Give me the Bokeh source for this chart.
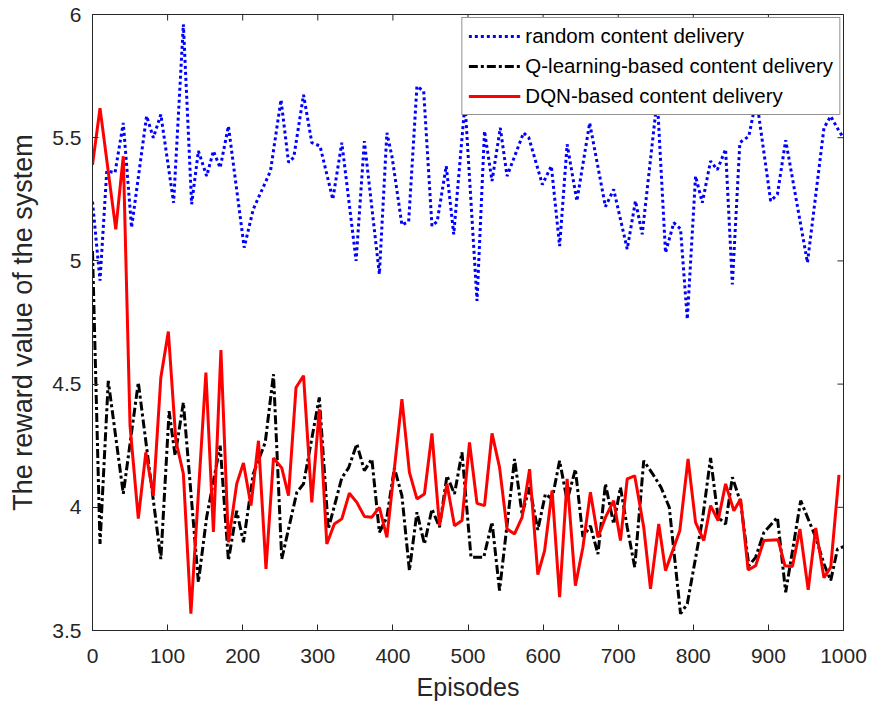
import math
from bokeh.plotting import figure
from bokeh.models import Legend, LegendItem, FixedTicker, Range1d, NumeralTickFormatter
from bokeh.embed import file_html
from bokeh.resources import INLINE

# ---- data ----
ep_random = [0, 10, 19, 30, 41, 52, 72, 81, 91, 108, 121, 132, 141, 152, 161, 170, 181, 202, 214, 237,
             251, 261, 268, 281, 292, 303, 320, 332, 351, 362, 382, 392, 399, 412, 421, 432, 441, 452, 459,
             471, 481, 496, 512, 522, 532, 543, 552, 574, 581, 599, 611, 622, 632, 645, 662, 683, 694, 712,
             723, 732, 752, 763, 774, 783, 792, 803, 812, 823, 832, 843, 852, 862, 874, 884, 903, 912, 923,
             952, 974, 983, 994, 1000]
reward_random = [5.24, 4.92, 5.365, 5.358, 5.56, 5.135, 5.588, 5.50, 5.594, 5.236, 5.96, 5.23, 5.446, 5.344,
                 5.446, 5.378, 5.547, 5.054, 5.209, 5.365, 5.654, 5.40, 5.42, 5.674, 5.48, 5.466, 5.25, 5.48,
                 5.0, 5.486, 4.946, 5.52, 5.42, 5.146, 5.16, 5.709, 5.689, 5.142, 5.16, 5.385, 5.108, 5.64,
                 4.838, 5.527, 5.324, 5.54, 5.344, 5.52, 5.50, 5.31, 5.385, 5.06, 5.473, 5.243, 5.56, 5.22,
                 5.29, 5.048, 5.243, 5.108, 5.66, 5.033, 5.155, 5.13, 4.763, 5.344, 5.236, 5.405, 5.37, 5.453,
                 4.905, 5.48, 5.506, 5.66, 5.243, 5.27, 5.49, 4.993, 5.54, 5.587, 5.527, 5.50]

ep_q = [0, 10, 21, 41, 61, 91, 102, 110, 121, 141, 152, 170, 181, 192, 201, 214, 230, 241, 252, 272, 281,
        302, 314, 332, 341, 352, 362, 372, 382, 392, 402, 412, 422, 432, 442, 452, 462, 472, 482, 492, 504,
        521, 532, 542, 562, 572, 582, 593, 603, 612, 622, 632, 643, 653, 663, 673, 683, 694, 703, 712, 722,
        734, 746, 757, 768, 783, 792, 812, 823, 833, 843, 852, 863, 874, 883, 894, 912, 923, 943, 963, 974,
        983, 992, 1000]
reward_q = [5.04, 3.851, 4.513, 4.055, 4.507, 3.79, 4.39, 4.21, 4.425, 3.696, 3.96, 4.25, 3.784, 3.986, 3.858,
            4.135, 4.263, 4.54, 3.79, 4.06, 4.095, 4.446, 3.912, 4.12, 4.16, 4.257, 4.149, 4.196, 3.898, 3.96,
            4.16, 4.047, 3.743, 3.98, 3.851, 3.993, 3.919, 4.128, 4.054, 4.223, 3.797, 3.797, 3.94, 3.662,
            4.196, 3.973, 4.081, 3.908, 4.054, 4.034, 4.189, 4.027, 4.155, 3.88, 3.925, 3.81, 4.095, 3.932,
            4.081, 3.919, 3.757, 4.189, 4.135, 4.081, 4.0, 3.568, 3.608, 3.946, 4.20, 3.959, 3.932, 4.122,
            4.02, 3.763, 3.797, 3.898, 3.959, 3.655, 4.027, 3.878, 3.77, 3.703, 3.831, 3.84]

ep_dqn = [0, 10, 31, 41, 50, 61, 71, 81, 91, 101, 111, 121, 131, 151, 161, 171, 181, 192, 201, 211, 221, 231,
          241, 252, 261, 271, 281, 292, 302, 312, 322, 332, 342, 352, 362, 372, 382, 392, 412, 422, 432, 442,
          452, 462, 472, 482, 492, 502, 512, 522, 532, 542, 552, 562, 572, 582, 593, 602, 612, 622, 632, 643,
          653, 663, 673, 683, 694, 703, 712, 722, 734, 743, 754, 763, 782, 793, 803, 814, 823, 833, 843, 854,
          863, 873, 883, 894, 913, 922, 932, 942, 953, 963, 974, 983, 994]
reward_dqn = [5.39, 5.62, 5.128, 5.425, 4.33, 3.954, 4.223, 4.047, 4.527, 4.713, 4.27, 4.136, 3.568, 4.547,
              3.90, 4.638, 3.858, 4.095, 4.18, 4.007, 4.27, 3.75, 4.20, 4.16, 4.047, 4.486, 4.534, 4.02, 4.398,
              3.851, 3.932, 3.953, 4.057, 4.02, 3.963, 3.96, 4.0, 3.878, 4.439, 4.142, 4.034, 4.054, 4.30,
              3.925, 4.095, 3.925, 3.946, 4.263, 4.016, 4.007, 4.30, 4.162, 3.912, 3.892, 3.959, 4.155, 3.727,
              3.824, 4.068, 3.635, 4.115, 3.682, 3.838, 4.061, 3.878, 3.959, 4.027, 3.865, 4.115, 4.128, 3.919,
              3.669, 3.932, 3.743, 3.905, 4.196, 3.939, 3.865, 4.007, 3.946, 4.095, 3.986, 4.034, 3.746, 3.763,
              3.865, 3.868, 3.763, 3.76, 3.912, 3.665, 3.916, 3.714, 3.757, 4.132]

x_ticks = [0, 100, 200, 300, 400, 500, 600, 700, 800, 900, 1000]
y_ticks = [3.5, 4, 4.5, 5, 5.5, 6]

labels = ["random content delivery", "Q-learning-based content delivery", "DQN-based content delivery"]

FONT = "Liberation Sans, Arial, sans-serif"
AX = "#262626"

x_min, x_max = x_ticks[0], x_ticks[-1]
y_min, y_max = y_ticks[0], y_ticks[-1]

p = figure(width=883, height=707, output_backend="svg", toolbar_location=None,
           x_range=Range1d(x_min, x_max), y_range=Range1d(y_min, y_max),
           min_border_left=92, min_border_right=40, min_border_top=14, min_border_bottom=77)
p.xgrid.visible = False
p.ygrid.visible = False
p.outline_line_color = AX
p.outline_line_width = 1
p.background_fill_color = "white"
p.border_fill_color = "white"

r1 = p.line(ep_random, reward_random, line_color="#0000FF", line_width=3, line_dash="3 3")
r2 = p.line(ep_q, reward_q, line_color="#000000", line_width=3, line_dash="9 3 3 3")
r3 = p.line(ep_dqn, reward_dqn, line_color="#FF0000", line_width=3)

# inward ticks on the top and right edges of the box (half of each dash is clipped by the frame)
p.scatter(x_ticks, [y_max] * len(x_ticks), marker="dash", angle=math.pi / 2, size=12,
          line_color=AX, line_width=1)
p.scatter([x_max] * len(y_ticks), y_ticks, marker="dash", size=12, line_color=AX, line_width=1)

xa = p.below[0]
ya = p.left[0]
for ax in (xa, ya):
    ax.major_tick_in = 6
    ax.major_tick_out = 0
    ax.minor_tick_line_color = None
    ax.axis_line_color = AX
    ax.major_tick_line_color = AX
    ax.major_label_text_font = FONT
    ax.major_label_text_font_size = "21px"
    ax.major_label_text_color = AX
    ax.axis_label_text_font = FONT
    ax.axis_label_text_font_style = "normal"
    ax.axis_label_text_color = AX
xa.ticker = FixedTicker(ticks=x_ticks)
ya.ticker = FixedTicker(ticks=y_ticks)
ya.formatter = NumeralTickFormatter(format="0.[0]")
xa.axis_label = "Episodes"
xa.axis_label_text_font_size = "25px"
xa.major_label_standoff = 18
xa.axis_label_standoff = 7
ya.axis_label = "The reward value of the system"
ya.axis_label_text_font_size = "27px"
ya.major_label_standoff = 11
ya.axis_label_standoff = 11

legend = Legend(items=[LegendItem(label=labels[0], renderers=[r1]),
                       LegendItem(label=labels[1], renderers=[r2]),
                       LegendItem(label=labels[2], renderers=[r3])],
                location="top_right")
legend.label_text_font = FONT
legend.label_text_font_size = "20.5px"
legend.label_text_color = "#000000"
legend.glyph_width = 52
legend.glyph_height = 24
legend.label_height = 24
legend.spacing = 6
legend.padding = 6
legend.margin = 3
legend.label_standoff = 5
legend.border_line_color = AX
legend.border_line_width = 1
legend.background_fill_alpha = 1
p.add_layout(legend)

open("out.html", "w").write(file_html(p, INLINE))
